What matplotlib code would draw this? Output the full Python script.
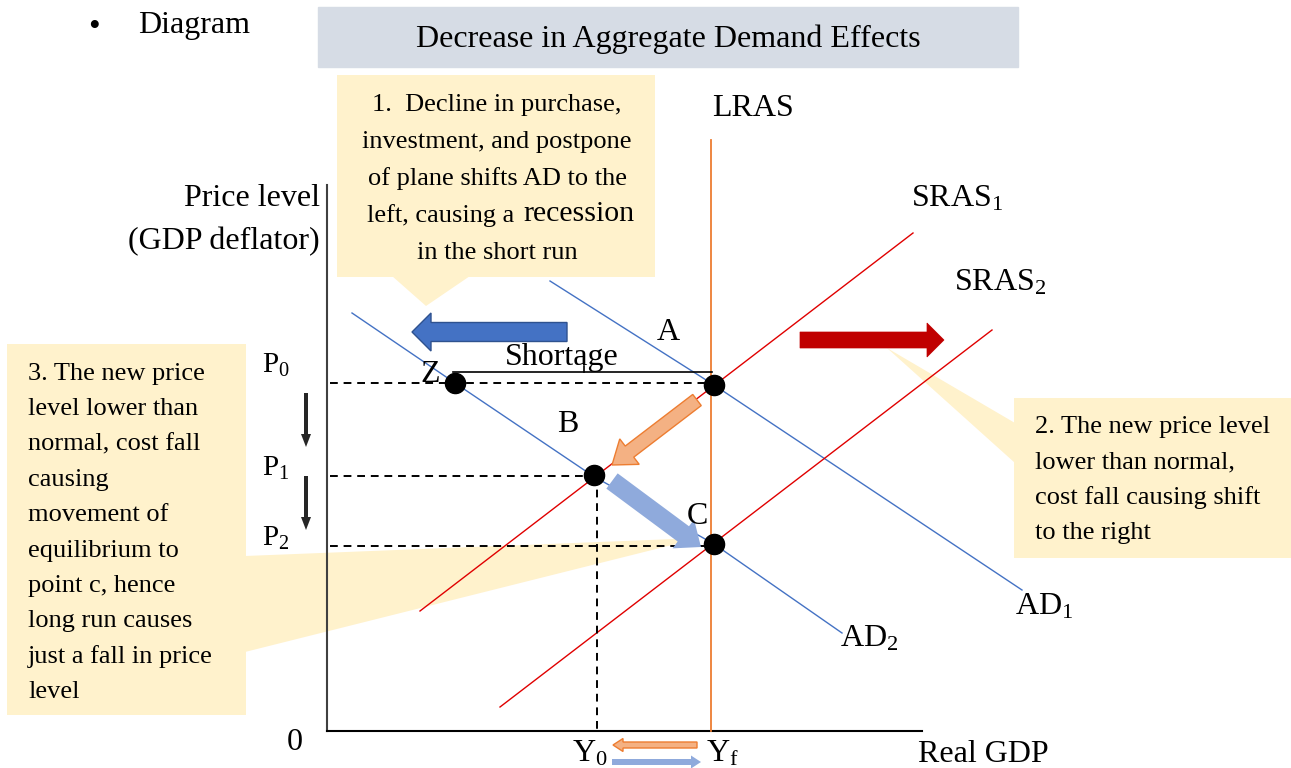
import numpy as np
import matplotlib
matplotlib.use("Agg")
from matplotlib import pyplot as plt
from matplotlib.patches import Polygon, Rectangle, FancyArrow

plt.rcParams['font.family'] = ['Liberation Serif', 'DejaVu Serif']
plt.rcParams['mathtext.fontset'] = 'custom'
plt.rcParams['mathtext.rm'] = 'Liberation Serif'
plt.rcParams['mathtext.it'] = 'Liberation Serif'

# ---- diagram data (picture units: x right, y down) ----
ad1_x = [550, 714, 1022]
ad1_y = [281, 385, 590]
ad2_x = [352, 455, 593, 714, 842]
ad2_y = [313, 383, 476, 544, 633]
sras1_x = [420, 913]
sras1_y = [611, 233]
sras2_x = [500, 992]
sras2_y = [707, 330]
lras_x = 711
lras_y = [140, 731]

pt_names = ["Z", "A", "B", "C"]
pt_x = [455, 714, 594, 714]
pt_y = [383, 385, 475, 544]

price_names = ["P$_0$", "P$_1$", "P$_2$"]
price_y = [383, 476, 546]
price_end_x = [714, 594, 714]

gdp_names = ["Y$_0$", "Y$_{\\mathrm{f}}$"]
gdp_x = [594, 711]

note1 = ["1.  Decline in purchase,", "investment, and postpone",
         "of plane shifts AD to the", "left, causing a ", "in the short run"]
note2 = ["2. The new price level", "lower than normal,",
         "cost fall causing shift", "to the right"]
note3 = ["3. The new price", "level lower than", "normal, cost fall", "causing",
         "movement of", "equilibrium to", "point c, hence", "long run causes",
         "just a fall in price", "level"]

YELLOW = "#FFF2CC"
BLUE = "#4472C4"
RED = "#C00000"
ORANGE = "#ED7D31"

fig = plt.figure(figsize=(12.91, 7.68), dpi=100)
ax = fig.add_axes([0, 0, 1, 1])
ax.set_xlim(0, 1291)
ax.set_ylim(768, 0)
ax.axis('off')

FS = 19     # callout text
LFS = 23    # diagram labels

# header
ax.text(94, 28, "\u2022", fontsize=24, ha='center', va='center')
ax.text(138, 26, "Diagram", fontsize=LFS, va='center')
ax.add_patch(Rectangle((318, 7), 700, 60, color="#D6DCE5", zorder=1))
ax.text(668, 39, "Decrease in Aggregate Demand Effects", fontsize=23,
        ha='center', va='center', zorder=5)

# callout 1
ax.add_patch(Rectangle((337, 75), 318, 202, color=YELLOW, lw=0, zorder=1))
ax.add_patch(Polygon([(392, 276), (426, 306), (470, 276)], color=YELLOW, lw=0, zorder=1))
for i, s in enumerate(note1):
    if i == 3:
        ax.text(521, 105 + i * 37, s, fontsize=FS, ha='right', va='center', zorder=5)
        ax.text(523, 103 + i * 37, "recession", fontsize=21.5, ha='left', va='center', zorder=5)
    else:
        ax.text(497, 105 + i * 37, s, fontsize=FS, ha='center', va='center', zorder=5)

# callout 2
ax.add_patch(Rectangle((1014, 398), 277, 160, color=YELLOW, lw=0, zorder=1))
ax.add_patch(Polygon([(1015, 423), (887, 348), (1015, 463)], color=YELLOW, lw=0, zorder=1))
for i, s in enumerate(note2):
    ax.text(1035, 427 + i * 35.5, s, fontsize=FS, ha='left', va='center', zorder=5)

# callout 3
ax.add_patch(Rectangle((7, 344), 239, 371, color=YELLOW, lw=0, zorder=1))
ax.add_patch(Polygon([(245, 556), (700, 538), (245, 652)], color=YELLOW, lw=0, zorder=1))
for i, s in enumerate(note3):
    ax.text(28, 374 + i * 35.3, s, fontsize=FS, ha='left', va='center', zorder=5)

# axes of the diagram
ax.plot([327, 327], [185, 731], color="#404040", lw=1.5, zorder=2)
ax.plot([327, 922], [731, 731], color="black", lw=1.5, zorder=2)
ax.text(320, 198, "Price level", fontsize=LFS, ha='right', va='center')
ax.text(320, 242, "(GDP deflator)", fontsize=LFS, ha='right', va='center')
ax.text(295, 742, "0", fontsize=LFS, ha='center', va='center')
ax.text(918, 755, "Real GDP", fontsize=LFS, ha='left', va='center')

# curves
ax.plot([lras_x, lras_x], lras_y, color=ORANGE, lw=1.3, zorder=2)
ax.plot(ad1_x, ad1_y, color=BLUE, lw=1.0, zorder=2)
ax.plot(ad2_x, ad2_y, color=BLUE, lw=1.0, zorder=2)
ax.plot(sras1_x, sras1_y, color="#E00000", lw=1.0, zorder=2)
ax.plot(sras2_x, sras2_y, color="#E00000", lw=1.0, zorder=2)
ax.text(753, 109, "LRAS", fontsize=LFS, ha='center', va='center')
ax.text(911, 199, "SRAS$_1$", fontsize=LFS, ha='left', va='center')
ax.text(954, 283, "SRAS$_2$", fontsize=LFS, ha='left', va='center')
ax.text(1015, 607, "AD$_1$", fontsize=LFS, ha='left', va='center')
ax.text(840, 639, "AD$_2$", fontsize=LFS, ha='left', va='center')

# dashed guides
for py, ex in zip(price_y, price_end_x):
    ax.plot([330, ex], [py, py], color="black", lw=1.4, ls=(0, (4, 3)), zorder=2)
ax.plot([597, 597], [476, 731], color="black", lw=1.4, ls=(0, (4, 3)), zorder=2)
for name, py in zip(price_names, price_y):
    ax.text(276, py - 18 if name.endswith("0$") else py - 8, name, fontsize=21,
            ha='center', va='center')
for name, gx in zip(gdp_names, gdp_x):
    ax.text(gx - 4 if gx < 700 else gx + 11, 754, name, fontsize=LFS, ha='center', va='center')

# shortage bracket
ax.plot([453, 712], [372, 372], color="black", lw=1.2, zorder=2)
ax.plot([584, 584], [366, 372], color="black", lw=1.2, zorder=2)
ax.text(562, 357, "Shortage", fontsize=LFS, ha='center', va='center', zorder=5)

# equilibrium points
ax.plot(pt_x, pt_y, 'o', color="black", ms=14.5, zorder=4)
lab_dx = [-25, -46, -26, -17]
lab_dy = [-8, -52, -50, -28]
for n, x, y, dx, dy in zip(pt_names, pt_x, pt_y, lab_dx, lab_dy):
    ax.text(x + dx, y + dy, n, fontsize=LFS, ha='center', va='center', zorder=5)

# arrows
ax.add_patch(FancyArrow(567, 332, -155, 0, width=19, head_width=38, head_length=19,
                        length_includes_head=True, fc=BLUE, ec="#2F528F", lw=1, zorder=3))
ax.add_patch(FancyArrow(800, 340, 144, 0, width=16, head_width=34, head_length=17,
                        length_includes_head=True, fc=RED, ec=RED, lw=0.5, zorder=3))
ax.add_patch(FancyArrow(697, 400, -85, 65, width=14, head_width=32, head_length=22,
                        length_includes_head=True, fc="#F4B183", ec=ORANGE, lw=1, zorder=3))
ax.add_patch(FancyArrow(612, 481, 89, 66, width=19, head_width=36, head_length=22,
                        length_includes_head=True, fc="#8FAADC", ec="none", zorder=3))
ax.add_patch(FancyArrow(697, 745, -84, 0, width=6, head_width=13, head_length=10,
                        length_includes_head=True, fc="#F4B183", ec=ORANGE, lw=1, zorder=3))
ax.add_patch(FancyArrow(612, 762, 89, 0, width=6, head_width=13, head_length=10,
                        length_includes_head=True, fc="#8FAADC", ec="none", zorder=3))
for y0, y1 in [(393, 447), (476, 530)]:
    ax.add_patch(FancyArrow(306, y0, 0, y1 - y0, width=4, head_width=10, head_length=13,
                            length_includes_head=True, fc="#262626", ec="none", zorder=3))

fig.savefig("out.png", dpi=100)
